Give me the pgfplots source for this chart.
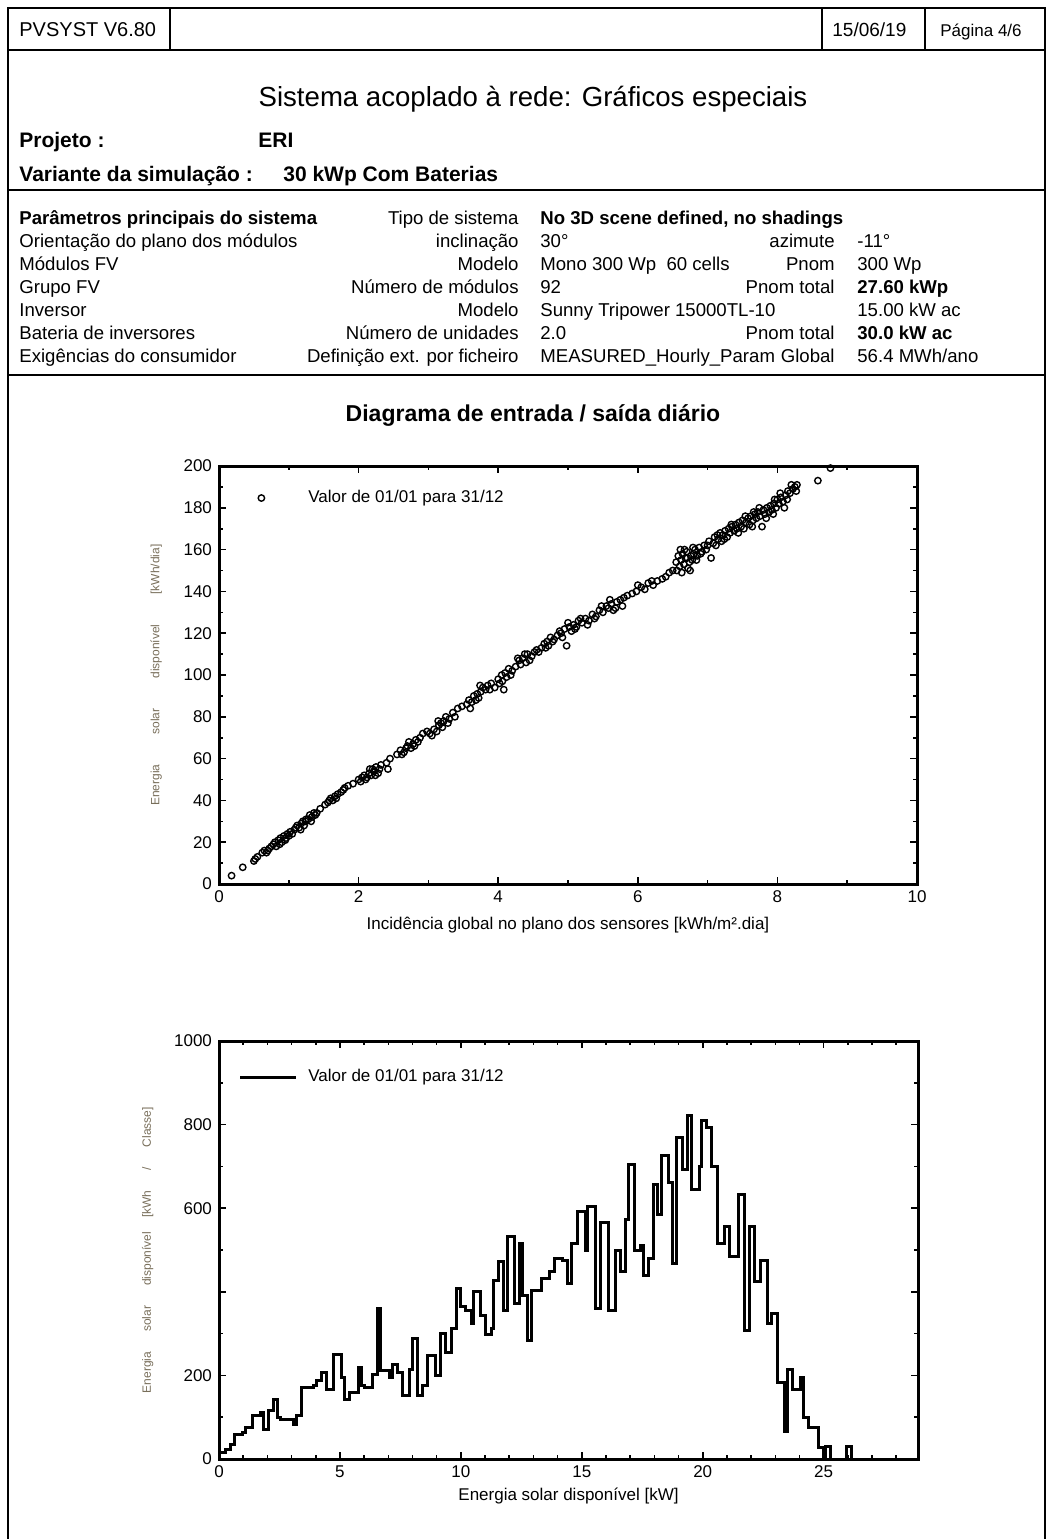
\documentclass[border=0pt]{standalone}
\usepackage{fontspec}
\setmainfont{Liberation Sans}
\usepackage{pgfplots}
\usepackage{pgfplotstable}
\pgfplotsset{compat=1.18}

\definecolor{lblcol}{RGB}{120,110,90}

% daily input/output: global incidence vs available energy
\pgfplotstableread{
x y
0.18 4
0.34 8
0.50 11
0.52 12
0.55 13
0.62 15
0.65 16
0.68 15
0.70 16
0.72 17
0.75 18
0.78 19
0.80 20
0.82 18
0.85 21
0.87 19
0.88 22
0.90 20
0.93 23
0.95 21
0.96 22
0.98 24
1.00 23
1.02 25
1.05 24
1.08 26
1.10 27
1.12 28
1.15 27
1.17 26
1.18 29
1.20 30
1.22 28
1.24 30
1.25 31
1.28 31
1.30 33
1.32 30
1.33 32
1.36 34
1.38 33
1.40 34
1.45 36
1.52 38
1.56 39
1.58 40
1.60 41
1.63 40
1.66 42
1.68 41
1.70 43
1.75 44
1.78 45
1.80 46
1.85 47
1.92 48
2.00 50
2.03 49
2.05 51
2.08 52
2.10 50
2.12 51
2.15 53
2.16 55
2.18 52
2.20 55
2.22 54
2.24 52
2.25 56
2.28 53
2.30 55
2.32 57
2.40 58
2.42 55
2.45 60
2.55 62
2.60 64
2.62 62
2.65 63
2.68 65
2.70 66
2.72 68
2.75 65
2.78 67
2.80 66
2.82 69
2.85 68
2.88 70
2.92 72
2.98 73
3.02 72
3.05 71
3.08 74
3.12 73
3.14 78
3.15 76
3.18 77
3.20 75
3.22 78
3.25 80
3.28 77
3.30 79
3.35 82
3.38 80
3.42 84
3.48 85
3.55 86
3.58 88
3.60 84
3.62 87
3.65 90
3.68 88
3.70 91
3.72 89
3.74 95
3.75 92
3.78 94
3.82 93
3.85 95
3.88 93
3.90 96
3.95 94
4.00 98
4.02 96
4.05 100
4.06 97
4.08 93
4.10 101
4.12 99
4.15 103
4.18 100
4.20 102
4.25 104
4.28 108
4.30 107
4.32 105
4.35 108
4.38 110
4.40 106
4.42 110
4.45 107
4.48 109
4.52 111
4.55 112
4.58 111
4.62 113
4.66 115
4.68 113
4.70 116
4.72 114
4.75 118
4.78 116
4.80 117
4.85 119
4.88 121
4.90 120
4.92 118
4.95 122
4.98 114
5.00 125
5.02 123
5.05 121
5.08 124
5.10 122
5.12 123
5.15 126
5.18 127
5.20 125
5.25 127
5.28 124
5.30 126
5.35 129
5.38 127
5.40 128
5.45 131
5.48 133
5.50 130
5.55 133
5.58 132
5.60 136
5.62 134
5.65 131
5.68 132
5.70 135
5.75 136
5.78 133
5.80 137
5.85 138
5.92 139
5.98 140
6.00 143
6.05 142
6.10 141
6.15 144
6.20 145
6.22 143
6.28 145
6.35 146
6.40 147
6.45 149
6.50 150
6.55 154
6.56 150
6.58 157
6.60 152
6.61 160
6.62 155
6.63 149
6.64 158
6.66 153
6.67 160
6.68 156
6.70 159
6.71 156
6.72 151
6.74 154
6.75 150
6.76 157
6.78 155
6.79 161
6.80 158
6.82 160
6.84 155
6.85 157
6.88 161
6.90 158
6.92 159
6.95 162
6.98 160
7.00 162
7.02 164
7.05 156
7.08 163
7.10 166
7.12 162
7.14 167
7.15 165
7.18 168
7.20 164
7.22 167
7.24 165
7.25 169
7.28 166
7.30 170
7.32 168
7.34 172
7.35 171
7.38 169
7.40 172
7.42 170
7.44 168
7.45 173
7.48 171
7.50 174
7.52 170
7.54 176
7.55 173
7.58 175
7.60 172
7.62 176
7.64 171
7.65 174
7.66 178
7.68 177
7.70 175
7.72 178
7.74 180
7.75 176
7.78 171
7.80 179
7.82 177
7.84 175
7.85 180
7.88 178
7.90 181
7.92 179
7.94 177
7.95 182
7.96 184
7.98 180
8.00 184
8.02 182
8.04 187
8.05 185
8.08 183
8.10 180
8.12 186
8.14 184
8.15 188
8.18 187
8.20 191
8.22 189
8.25 190
8.27 188
8.28 191
8.58 193
8.76 199
}\scatdata

% histogram of available solar energy (step starts)
\pgfplotstableread{
x y
0.00 15
0.25 22
0.46 35
0.63 59
0.99 63
1.09 75
1.40 103
1.72 111
1.82 70
2.03 115
2.24 143
2.41 99
2.56 95
3.08 83
3.19 103
3.40 171
3.92 175
4.03 189
4.23 207
4.44 167
4.72 251
5.07 194
5.18 143
5.39 159
5.77 220
5.91 175
6.02 171
6.33 203
6.54 360
6.69 211
7.06 195
7.17 227
7.38 207
7.59 151
7.86 215
8.01 288
8.22 151
8.43 175
8.64 247
8.95 199
9.16 301
9.37 255
9.62 312
9.83 408
10.00 364
10.21 356
10.42 324
10.52 400
10.80 344
11.01 298
11.26 312
11.36 428
11.57 472
11.78 356
11.93 533
12.20 372
12.41 516
12.56 392
12.77 284
12.94 404
13.35 432
13.67 448
13.88 480
14.19 476
14.40 420
14.57 516
14.82 593
15.14 500
15.24 605
15.56 360
15.77 565
16.12 356
16.39 500
16.60 448
16.81 573
16.92 705
17.17 500
17.44 512
17.55 440
17.76 480
17.97 657
18.13 585
18.28 725
18.60 661
18.76 468
18.91 769
19.18 693
19.39 822
19.54 645
19.85 701
19.96 810
20.17 793
20.38 701
20.59 516
20.90 556
21.11 484
21.49 633
21.74 308
21.95 556
22.16 424
22.37 476
22.68 324
22.85 349
23.10 183
23.38 67
23.52 213
23.73 167
24.05 195
24.15 99
24.36 75
24.78 27
24.99 0
25.09 30
25.30 0
25.93 30
26.14 0
26.20 0
}\histdata

\pgfplotsset{
  pvbox/.style={
    scale only axis,
    axis line style={line width=1.5pt},
    every tick/.style={black, line width=0.8pt},
    major tick length=3.5pt,
    minor tick length=2pt,
    ticklabel style={font=\fontsize{8.5}{10}\selectfont},
    /pgf/number format/assume math mode=true,
    /pgf/number format/1000 sep={},
    label style={font=\fontsize{8.5}{10}\selectfont},
    legend style={draw=none, fill=none, inner sep=0pt,
      font=\fontsize{8.5}{10}\selectfont,
      nodes={inner sep=1pt}},
  },
}

\begin{document}
\begin{tikzpicture}[x=0.5pt, y=-0.5pt]
\useasboundingbox (0,0) rectangle (1051,1539);

% page frame
\draw[line width=1pt] (8,1545) -- (8,8) -- (1045,8) -- (1045,1545);
\draw[line width=1pt] (170,8) -- (170,50);
\draw[line width=1pt] (822,8) -- (822,50);
\draw[line width=1pt] (925,8) -- (925,50);
\draw[line width=1.3pt] (8,50) -- (1045,50);
\draw[line width=1.3pt] (8,190) -- (1045,190);
\draw[line width=1.3pt] (8,375) -- (1045,375);

% header
\node[anchor=base west, inner sep=0pt, font=\fontsize{10}{11}\selectfont] at (19,36) {PVSYST V6.80};
\node[anchor=base west, inner sep=0pt, font=\fontsize{9.5}{11}\selectfont] at (832,36) {15/06/19};
\node[anchor=base west, inner sep=0pt, font=\fontsize{8.5}{10}\selectfont] at (940,36) {Página 4/6};

\node[anchor=base, inner sep=0pt, font=\fontsize{13.8}{15}\selectfont] at (533,106) {Sistema acoplado à rede: Gráficos especiais};
\node[anchor=base west, inner sep=0pt, font=\fontsize{10.5}{12}\selectfont\bfseries] at (19,147) {Projeto :};
\node[anchor=base west, inner sep=0pt, font=\fontsize{10.5}{12}\selectfont\bfseries] at (258,147) {ERI};
\node[anchor=base west, inner sep=0pt, font=\fontsize{10.5}{12}\selectfont\bfseries] at (19,181) {Variante da simulação :};
\node[anchor=base west, inner sep=0pt, font=\fontsize{10.5}{12}\selectfont\bfseries] at (283,181) {30 kWp Com Baterias};

% main parameters table
\begin{scope}[every node/.style={inner sep=0pt, font=\fontsize{9.3}{10}\selectfont}]
\node[anchor=base west, font=\fontsize{9.3}{10}\selectfont\bfseries] at (19,224) {Parâmetros principais do sistema};
\node[anchor=base east] at (519,224) {Tipo de sistema};
\node[anchor=base west, font=\fontsize{9.3}{10}\selectfont\bfseries] at (540,224) {No 3D scene defined, no shadings};

\node[anchor=base west] at (19,247) {Orientação do plano dos módulos};
\node[anchor=base east] at (519,247) {inclinação};
\node[anchor=base west] at (540,247) {30°};
\node[anchor=base east] at (835,247) {azimute};
\node[anchor=base west] at (857,247) {-11°};

\node[anchor=base west] at (19,270) {Módulos FV};
\node[anchor=base east] at (519,270) {Modelo};
\node[anchor=base west] at (540,270) {Mono 300 Wp\ \ 60 cells};
\node[anchor=base east] at (835,270) {Pnom};
\node[anchor=base west] at (857,270) {300 Wp};

\node[anchor=base west] at (19,293) {Grupo FV};
\node[anchor=base east] at (519,293) {Número de módulos};
\node[anchor=base west] at (540,293) {92};
\node[anchor=base east] at (835,293) {Pnom total};
\node[anchor=base west, font=\fontsize{9.3}{10}\selectfont\bfseries] at (857,293) {27.60 kWp};

\node[anchor=base west] at (19,316) {Inversor};
\node[anchor=base east] at (519,316) {Modelo};
\node[anchor=base west] at (540,316) {Sunny Tripower 15000TL-10};
\node[anchor=base west] at (857,316) {15.00 kW ac};

\node[anchor=base west] at (19,339) {Bateria de inversores};
\node[anchor=base east] at (519,339) {Número de unidades};
\node[anchor=base west] at (540,339) {2.0};
\node[anchor=base east] at (835,339) {Pnom total};
\node[anchor=base west, font=\fontsize{9.3}{10}\selectfont\bfseries] at (857,339) {30.0 kW ac};

\node[anchor=base west] at (19,362) {Exigências do consumidor};
\node[anchor=base east] at (519,362) {Definição ext. por ficheiro};
\node[anchor=base west] at (540,362) {MEASURED\_Hourly\_Param};
\node[anchor=base east] at (835,362) {Global};
\node[anchor=base west] at (857,362) {56.4 MWh/ano};
\end{scope}

\node[anchor=base, inner sep=0pt, font=\fontsize{11.5}{13}\selectfont\bfseries] at (533,421) {Diagrama de entrada / saída diário};

\coordinate (s1) at (219,884);
\coordinate (s2) at (219,1459);

% scatter: daily input/output diagram
\begin{axis}[pvbox,
  at={(s1)}, anchor=south west,
  width=349pt, height=209pt,
  xmin=0, xmax=10, ymin=0, ymax=200,
  xtick={0,2,...,10}, ytick={0,20,...,200},
  minor x tick num=1, minor y tick num=1,
  xlabel={Incidência global no plano dos sensores [kWh/m².dia]},
  xlabel style={at={(axis description cs:0.5,0)}, anchor=center, yshift=-20.5pt},
  ylabel={Energia\hspace{15pt}solar\hspace{15pt}disponível\hspace{15pt}[kWh/dia]},
  ylabel style={at={(axis description cs:-0.09,0.5)}, anchor=center,
    font=\fontsize{6}{7}\selectfont, text=lblcol},
  legend style={at={(axis description cs:0,0.9234)}, anchor=west},
  legend image code/.code={\path[draw=none] (0pt,0pt) -- (43.5pt,0pt);
    \draw[mark repeat=1] plot coordinates {(21pt,0pt)};},
]
\addplot[only marks, mark=o, mark size=1.6pt, mark options={line width=0.7pt}, black]
  table {\scatdata};
\addlegendentry{Valor de 01/01 para 31/12}
\end{axis}

% histogram of available solar energy
\begin{axis}[pvbox,
  at={(s2)}, anchor=south west,
  width=349.5pt, height=209pt,
  xmin=0, xmax=28.9, ymin=0, ymax=1000,
  xtick={0,5,...,25}, minor xtick={1,2,3,4,6,7,8,9,11,12,13,14,16,17,18,19,21,22,23,24,26,27,28},
  ytick={0,200,...,1000}, yticklabels={0,200,,600,800,1000},
  minor ytick={100,300,...,900},
  xlabel={Energia solar disponível [kW]},
  xlabel style={at={(axis description cs:0.5,0)}, anchor=center, yshift=-18.5pt},
  ylabel={Energia\hspace{10pt}solar\hspace{10pt}disponível\hspace{7pt}[kWh\hspace{10pt}/\hspace{10pt}Classe]},
  ylabel style={at={(axis description cs:-0.102,0.5)}, anchor=center,
    font=\fontsize{6}{7}\selectfont, text=lblcol},
  legend style={at={(axis description cs:0,0.9139)}, anchor=west},
  legend image code/.code={\path[draw=none] (0pt,0pt) -- (43.5pt,0pt);
    \draw (10.5pt,0pt) -- (38.5pt,0pt);},
]
\addplot[const plot, black, line width=1.5pt] table {\histdata};
\addlegendentry{Valor de 01/01 para 31/12}
\end{axis}
\end{tikzpicture}
\end{document}
